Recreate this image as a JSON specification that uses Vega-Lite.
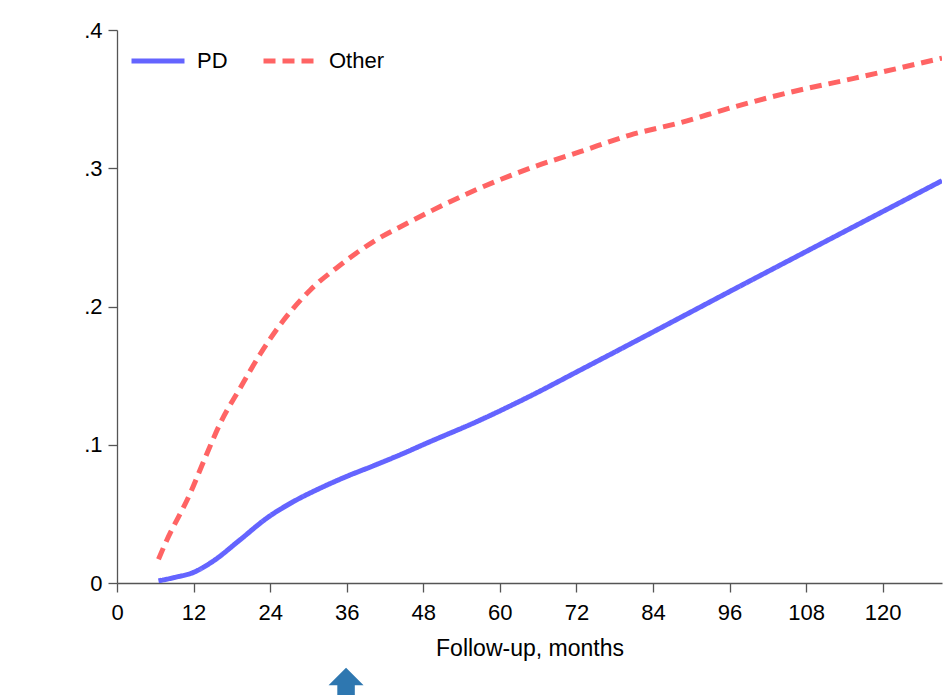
{
  "$schema": "https://vega.github.io/schema/vega-lite/v6.json",
  "width": 825,
  "height": 553,
  "autosize": {"type": "none"},
  "padding": {"left": 117, "top": 30, "right": 9, "bottom": 112},
  "background": "white",
  "config": {
    "view": {"stroke": null},
    "font": "Liberation Sans",
    "axis": {
      "labelFont": "Liberation Sans",
      "titleFont": "Liberation Sans",
      "labelFontSize": 22,
      "titleFontSize": 23,
      "titleFontWeight": "normal",
      "labelColor": "black",
      "titleColor": "black",
      "domainColor": "#555555",
      "tickColor": "#555555",
      "domainWidth": 1.3,
      "tickWidth": 1.3,
      "tickSize": 9,
      "grid": false
    }
  },
  "datasets": {
    "curves": [
      {"group": "PD", "month": 6.5, "value": 0.0015},
      {"group": "PD", "month": 9, "value": 0.004},
      {"group": "PD", "month": 12, "value": 0.0077},
      {"group": "PD", "month": 15, "value": 0.0156},
      {"group": "PD", "month": 19.3, "value": 0.0313},
      {"group": "PD", "month": 23.5, "value": 0.047},
      {"group": "PD", "month": 27.7, "value": 0.059},
      {"group": "PD", "month": 31.9, "value": 0.0687},
      {"group": "PD", "month": 36, "value": 0.0771},
      {"group": "PD", "month": 40.2, "value": 0.0848},
      {"group": "PD", "month": 44.4, "value": 0.0928},
      {"group": "PD", "month": 48.6, "value": 0.1013},
      {"group": "PD", "month": 56.9, "value": 0.1178},
      {"group": "PD", "month": 64.8, "value": 0.1353},
      {"group": "PD", "month": 72.6, "value": 0.154},
      {"group": "PD", "month": 80.4, "value": 0.1728},
      {"group": "PD", "month": 88.3, "value": 0.192},
      {"group": "PD", "month": 96.1, "value": 0.211},
      {"group": "PD", "month": 105, "value": 0.2325},
      {"group": "PD", "month": 115.5, "value": 0.2578},
      {"group": "PD", "month": 129.3, "value": 0.291},
      {"group": "Other", "month": 6.5, "value": 0.0172},
      {"group": "Other", "month": 7.6, "value": 0.0289},
      {"group": "Other", "month": 11.5, "value": 0.0651},
      {"group": "Other", "month": 13.8, "value": 0.0904},
      {"group": "Other", "month": 16.2, "value": 0.1157},
      {"group": "Other", "month": 19.3, "value": 0.141},
      {"group": "Other", "month": 22.5, "value": 0.166},
      {"group": "Other", "month": 26.1, "value": 0.19},
      {"group": "Other", "month": 30.3, "value": 0.212},
      {"group": "Other", "month": 35, "value": 0.23},
      {"group": "Other", "month": 40.2, "value": 0.247},
      {"group": "Other", "month": 45.4, "value": 0.26},
      {"group": "Other", "month": 49.1, "value": 0.2688},
      {"group": "Other", "month": 56.9, "value": 0.2857},
      {"group": "Other", "month": 64.7, "value": 0.3},
      {"group": "Other", "month": 72.6, "value": 0.312},
      {"group": "Other", "month": 80.4, "value": 0.324},
      {"group": "Other", "month": 88.3, "value": 0.333},
      {"group": "Other", "month": 96.1, "value": 0.3436},
      {"group": "Other", "month": 105, "value": 0.3544},
      {"group": "Other", "month": 115.5, "value": 0.365},
      {"group": "Other", "month": 129.3, "value": 0.3797}
    ],
    "arrow": [
      {"month": 35.9, "value": -0.0739}
    ]
  },
  "layer": [
    {
      "data": {"name": "curves"},
      "mark": {"type": "line", "strokeWidth": 5, "interpolate": "monotone", "clip": true, "strokeCap": "butt"},
      "encoding": {
        "x": {
          "field": "month", "type": "quantitative",
          "scale": {"domain": [0, 129.3], "nice": false, "zero": true},
          "axis": {
            "values": [0, 12, 24, 36, 48, 60, 72, 84, 96, 108, 120],
            "title": "Follow-up, months",
            "labelPadding": 10,
            "titlePadding": 14,
            "labelFlush": false
          }
        },
        "y": {
          "field": "value", "type": "quantitative",
          "scale": {"domain": [0, 0.4], "nice": false},
          "axis": {
            "values": [0, 0.1, 0.2, 0.3, 0.4],
            "labelExpr": "datum.value == 0 ? '0' : replace(format(datum.value, '.1f'), '0.', '.')",
            "title": null,
            "labelPadding": 6,
            "labelFlush": false
          }
        },
        "color": {
          "field": "group", "type": "nominal",
          "scale": {"domain": ["PD", "Other"], "range": ["#6464ff", "#ff6464"]},
          "legend": {
            "orient": "none", "legendX": 12, "legendY": 2,
            "direction": "horizontal", "title": null,
            "symbolType": "stroke", "symbolSize": 2809, "symbolStrokeWidth": 5,
            "labelFontSize": 22, "labelFont": "Liberation Sans", "labelColor": "black",
            "labelOffset": 10, "columnPadding": 25, "padding": 0
          }
        },
        "strokeDash": {
          "field": "group", "type": "nominal",
          "scale": {"domain": ["PD", "Other"], "range": [[1, 0], [12, 7]]},
          "legend": {
            "orient": "none", "legendX": 12, "legendY": 2,
            "direction": "horizontal", "title": null,
            "symbolType": "stroke", "symbolSize": 2809, "symbolStrokeWidth": 5,
            "labelFontSize": 22, "labelFont": "Liberation Sans", "labelColor": "black",
            "labelOffset": 10, "columnPadding": 25, "padding": 0
          }
        }
      }
    },
    {
      "data": {"name": "arrow"},
      "mark": {
        "type": "point",
        "shape": "M0,-1L1,0L0.5,0L0.5,1.6L-0.5,1.6L-0.5,0L-1,0Z",
        "size": 1225,
        "filled": true,
        "color": "#2e77b0",
        "opacity": 1,
        "clip": false
      },
      "encoding": {
        "x": {"field": "month", "type": "quantitative"},
        "y": {"field": "value", "type": "quantitative"}
      }
    }
  ]
}
